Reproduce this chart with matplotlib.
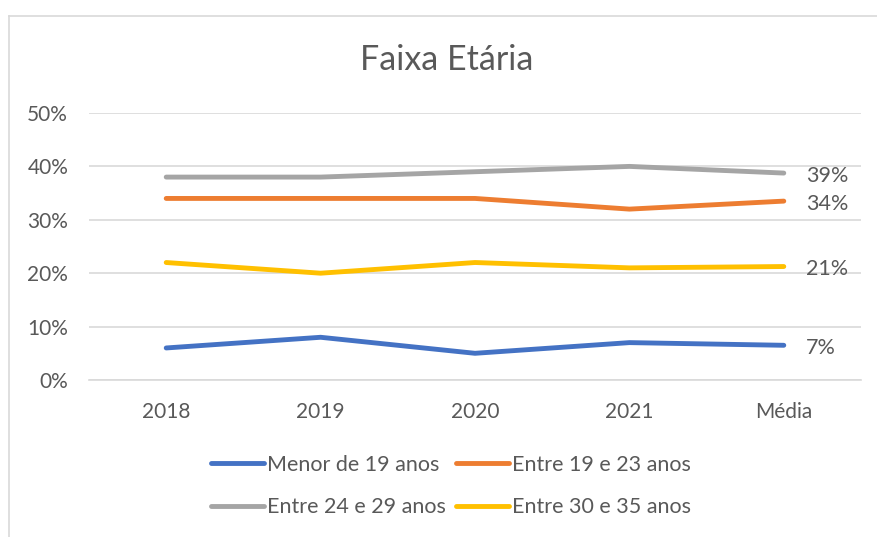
import matplotlib
matplotlib.use("Agg")
import matplotlib.pyplot as plt
from matplotlib.lines import Line2D
import matplotlib.ticker as mtick

plt.rcParams["font.family"] = ["Lato", "DejaVu Sans"]

categories = ["2018", "2019", "2020", "2021", "Média"]
series_names = ["Menor de 19 anos", "Entre 19 e 23 anos", "Entre 24 e 29 anos", "Entre 30 e 35 anos"]
menor_19 = [0.06, 0.08, 0.05, 0.07, 0.065]
entre_19_23 = [0.34, 0.34, 0.34, 0.32, 0.335]
entre_24_29 = [0.38, 0.38, 0.39, 0.40, 0.3875]
entre_30_35 = [0.22, 0.20, 0.22, 0.21, 0.2125]
end_labels = ["7%", "34%", "39%", "21%"]
colors = ["#4472C4", "#ED7D31", "#A5A5A5", "#FFC000"]

text_color = "#595959"
grid_color = "#D9D9D9"

fig = plt.figure(figsize=(8.77, 5.37), dpi=100)
ax = fig.add_axes([89 / 877, 1 - 380 / 537, (861 - 89) / 877, (380 - 113) / 537])

x = range(len(categories))
handles = []
for vals, name, c, lab in zip([menor_19, entre_19_23, entre_24_29, entre_30_35], series_names, colors, end_labels):
    h, = ax.plot(x, vals, color=c, lw=3.5, solid_capstyle="round", label=name)
    handles.append(h)
    ax.annotate(lab, (x[-1], vals[-1]), xytext=(16, -2), textcoords="offset points",
                va="center", ha="left", fontsize=15.5, color=text_color)

ax.set_xlim(-0.5, 4.5)
ax.set_ylim(0, 0.5)
ax.set_yticks([0, 0.1, 0.2, 0.3, 0.4, 0.5])
ax.yaxis.set_major_formatter(mtick.PercentFormatter(1.0, decimals=0))
ax.set_xticks(list(x))
ax.set_xticklabels(categories)
ax.grid(axis="y", color=grid_color, lw=1.2)
ax.set_axisbelow(True)
for s in ["top", "right", "left"]:
    ax.spines[s].set_visible(False)
ax.spines["bottom"].set_color(grid_color)
ax.spines["bottom"].set_linewidth(1.2)
ax.tick_params(axis="both", length=0, labelsize=15, colors=text_color)
ax.tick_params(axis="y", pad=15)
ax.tick_params(axis="x", pad=15.5)

fig.text(447 / 877, 1 - 60 / 537, "Faixa Etária", ha="center", va="center", fontsize=24.5, color=text_color)

# legend filled row by row: blue, orange / gray, yellow
order = [0, 2, 1, 3]
fig.legend([handles[i] for i in order], [series_names[i] for i in order],
           loc="center", bbox_to_anchor=(451 / 877, 1 - 486 / 537), ncol=2, frameon=False,
           fontsize=15.5, labelcolor=text_color, handlelength=2.45, handletextpad=0.15,
           columnspacing=0.45, labelspacing=1.05)

# chart area border (left and top edges only visible)
fig.add_artist(Line2D([8.5 / 877, 8.5 / 877], [0, 1 - 15.5 / 537], transform=fig.transFigure, color=grid_color, lw=1.2))
fig.add_artist(Line2D([8.5 / 877, 1], [1 - 15.5 / 537, 1 - 15.5 / 537], transform=fig.transFigure, color=grid_color, lw=1.2))

fig.savefig("out.png", dpi=100, facecolor="white")
